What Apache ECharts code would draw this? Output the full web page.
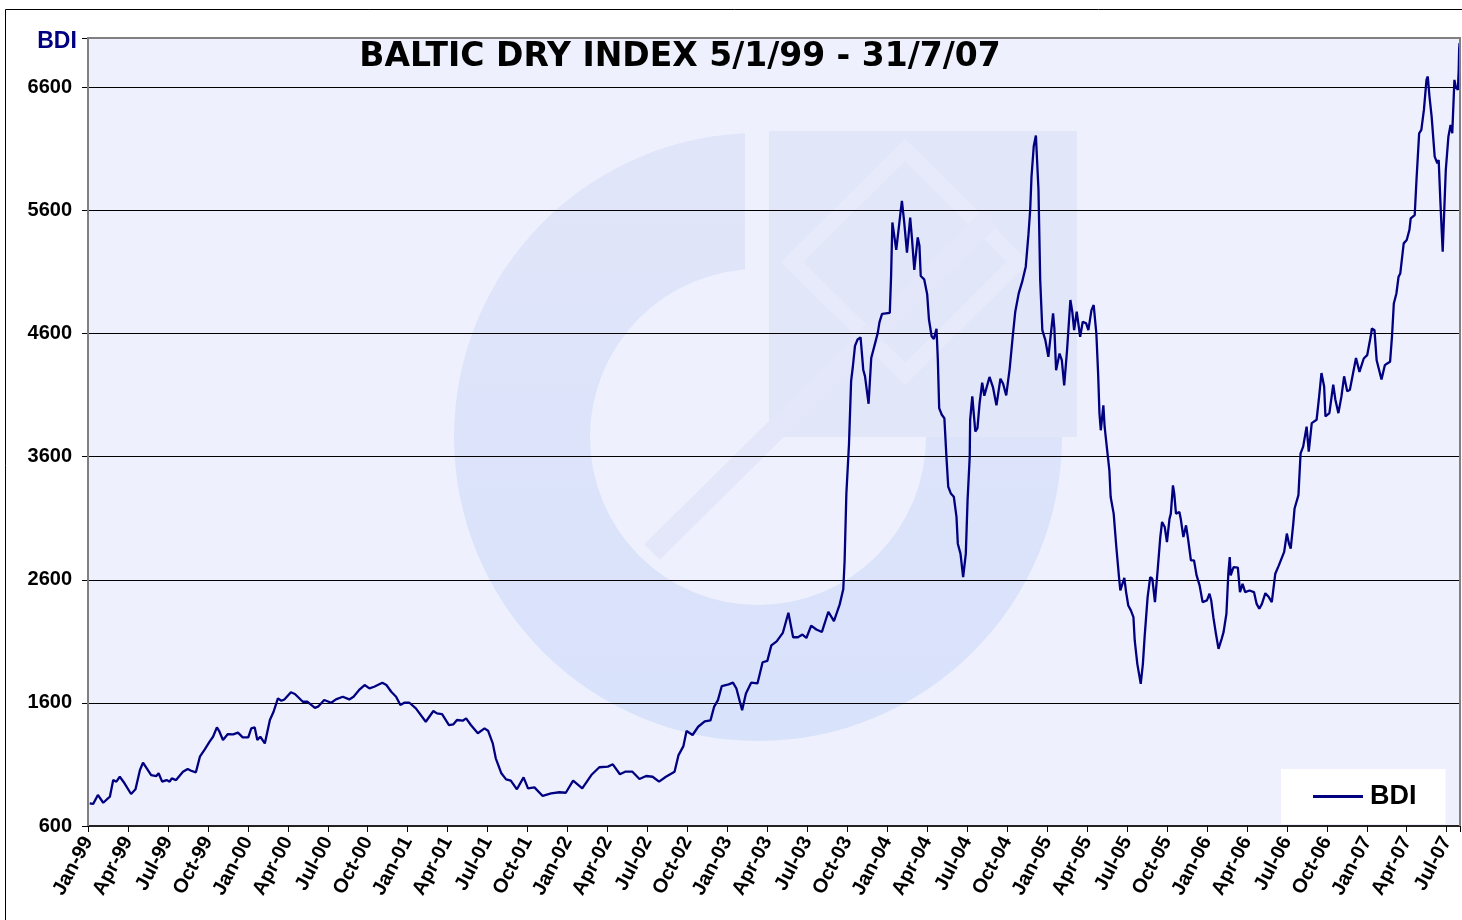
<!DOCTYPE html>
<html>
<head>
<meta charset="utf-8">
<title>Baltic Dry Index</title>
<script src="https://cdn.jsdelivr.net/npm/echarts@6/dist/echarts.min.js"></script>
<style>
  html, body { margin: 0; padding: 0; background: #fff; }
  #chart { width: 1462px; height: 920px; }
</style>
</head>
<body>
<div id="chart"></div>
<script>
// quarterly tick labels along the bottom
const quarterLabels = ['Jan-99','Apr-99','Jul-99','Oct-99','Jan-00','Apr-00','Jul-00','Oct-00',
  'Jan-01','Apr-01','Jul-01','Oct-01','Jan-02','Apr-02','Jul-02','Oct-02','Jan-03','Apr-03',
  'Jul-03','Oct-03','Jan-04','Apr-04','Jul-04','Oct-04','Jan-05','Apr-05','Jul-05','Oct-05',
  'Jan-06','Apr-06','Jul-06','Oct-06','Jan-07','Apr-07','Jul-07']

// BDI readings
const dates = [
  '1999-01-05','1999-01-13','1999-01-24','1999-02-05','1999-02-19','1999-02-26','1999-03-05','1999-03-13',
  '1999-03-24','1999-04-08','1999-04-18','1999-04-28','1999-05-05','1999-05-24','1999-06-05','1999-06-10',
  '1999-06-18','1999-06-28','1999-07-05','1999-07-10','1999-07-20','1999-08-05','1999-08-16','1999-08-24',
  '1999-09-04','1999-09-13','1999-09-24','1999-10-05','1999-10-13','1999-10-22','1999-10-28','1999-11-05',
  '1999-11-16','1999-11-28','1999-12-09','1999-12-20',
  '2000-01-02','2000-01-09','2000-01-17','2000-01-23','2000-01-30','2000-02-09','2000-02-20','2000-02-28',
  '2000-03-09','2000-03-17','2000-03-24','2000-04-08','2000-04-17','2000-05-05','2000-05-16','2000-06-02',
  '2000-06-09','2000-06-23','2000-07-09','2000-07-20','2000-08-05','2000-08-20','2000-08-30','2000-09-13',
  '2000-09-24','2000-10-05','2000-10-16','2000-11-04','2000-11-13','2000-11-24','2000-12-05','2000-12-15',
  '2000-12-24',
  '2001-01-05','2001-01-20','2001-02-11','2001-02-27','2001-03-07','2001-03-19','2001-04-04','2001-04-14',
  '2001-04-22','2001-05-05','2001-05-13','2001-05-24','2001-06-09','2001-06-24','2001-07-02','2001-07-13',
  '2001-07-20','2001-08-02','2001-08-13','2001-08-24','2001-09-07','2001-09-22','2001-10-02','2001-10-17',
  '2001-11-05','2001-11-24','2001-12-13','2001-12-28',
  '2002-01-14','2002-02-04','2002-02-23','2002-03-13','2002-04-02','2002-04-13','2002-04-29','2002-05-11',
  '2002-05-28','2002-06-13','2002-06-28','2002-07-13','2002-07-28','2002-08-13','2002-09-02','2002-09-11',
  '2002-09-22','2002-09-29','2002-10-13','2002-10-26','2002-11-10','2002-11-23','2002-12-01','2002-12-10',
  '2002-12-19',
  '2003-01-04','2003-01-14','2003-01-22','2003-02-04','2003-02-12','2003-02-23','2003-03-09','2003-03-21',
  '2003-04-01','2003-04-10','2003-04-22','2003-05-06','2003-05-19','2003-05-30','2003-06-10','2003-06-20',
  '2003-06-29','2003-07-10','2003-07-22','2003-08-04','2003-08-19','2003-09-01','2003-09-14','2003-09-22',
  '2003-09-25','2003-09-29','2003-10-05','2003-10-10','2003-10-14','2003-10-19','2003-10-25','2003-11-01',
  '2003-11-07','2003-11-11','2003-11-19','2003-11-25','2003-12-04','2003-12-10','2003-12-14','2003-12-20',
  '2004-01-07','2004-01-10','2004-01-13','2004-01-16','2004-01-22','2004-01-26','2004-02-01','2004-02-04',
  '2004-02-09','2004-02-15','2004-02-18','2004-02-22','2004-02-26','2004-03-02','2004-03-10','2004-03-14',
  '2004-03-17','2004-03-25','2004-04-01','2004-04-05','2004-04-11','2004-04-16','2004-04-22','2004-04-25',
  '2004-04-28','2004-05-04','2004-05-10','2004-05-15','2004-05-19','2004-05-25','2004-06-01','2004-06-07',
  '2004-06-10','2004-06-16','2004-06-22','2004-06-28','2004-07-02','2004-07-07','2004-07-08','2004-07-13',
  '2004-07-20','2004-07-25','2004-07-30','2004-08-05','2004-08-10','2004-08-22','2004-08-30','2004-09-07',
  '2004-09-16','2004-09-22','2004-09-29','2004-10-07','2004-10-14','2004-10-20','2004-10-28','2004-11-05',
  '2004-11-13','2004-11-19','2004-11-23','2004-11-26','2004-12-01','2004-12-06','2004-12-12','2004-12-16',
  '2004-12-21','2004-12-28',
  '2005-01-04','2005-01-08','2005-01-15','2005-01-18','2005-01-22','2005-01-25','2005-01-30','2005-02-04',
  '2005-02-09','2005-02-15','2005-02-22','2005-02-26','2005-03-02','2005-03-08','2005-03-16','2005-03-22',
  '2005-03-30','2005-04-04','2005-04-11','2005-04-16','2005-04-22','2005-04-26','2005-04-29','2005-05-02',
  '2005-05-08','2005-05-11','2005-05-16','2005-05-22','2005-05-25','2005-06-01','2005-06-07','2005-06-13',
  '2005-06-16','2005-06-25','2005-06-29','2005-07-04','2005-07-10','2005-07-16','2005-07-19','2005-07-25',
  '2005-08-02','2005-08-07','2005-08-11','2005-08-18','2005-08-24','2005-08-29','2005-09-04','2005-09-10',
  '2005-09-16','2005-09-20','2005-09-26','2005-10-01','2005-10-07','2005-10-10','2005-10-15','2005-10-18',
  '2005-10-22','2005-10-30','2005-11-02','2005-11-08','2005-11-14','2005-11-19','2005-11-25','2005-12-02',
  '2005-12-08','2005-12-15','2005-12-22',
  '2006-01-01','2006-01-07','2006-01-11','2006-01-16','2006-01-22','2006-01-28','2006-02-04','2006-02-08',
  '2006-02-14','2006-02-18','2006-02-21','2006-02-23','2006-03-01','2006-03-05','2006-03-11','2006-03-16',
  '2006-03-22','2006-03-28','2006-04-07','2006-04-17','2006-04-23','2006-04-29','2006-05-05','2006-05-13',
  '2006-05-21','2006-05-28','2006-06-05','2006-06-13','2006-06-17','2006-06-25','2006-07-01','2006-07-06',
  '2006-07-10','2006-07-16','2006-07-19','2006-07-28','2006-08-02','2006-08-08','2006-08-16','2006-08-21',
  '2006-08-28','2006-09-08','2006-09-13','2006-09-19','2006-09-25','2006-09-28','2006-10-07','2006-10-16',
  '2006-10-21','2006-10-28','2006-11-04','2006-11-10','2006-11-17','2006-11-23','2006-12-01','2006-12-07',
  '2006-12-15','2006-12-25',
  '2007-01-02','2007-01-10','2007-01-13','2007-01-19','2007-01-24','2007-01-28','2007-02-04','2007-02-11',
  '2007-02-16','2007-02-22','2007-02-26','2007-03-02','2007-03-08','2007-03-13','2007-03-17','2007-03-25',
  '2007-04-01','2007-04-07','2007-04-10','2007-04-19','2007-04-23','2007-04-29','2007-05-04','2007-05-10',
  '2007-05-16','2007-05-19','2007-05-23','2007-05-28','2007-06-04','2007-06-10','2007-06-13','2007-06-17',
  '2007-06-22','2007-06-25','2007-06-29','2007-07-05','2007-07-10','2007-07-14','2007-07-19','2007-07-22',
  '2007-07-27','2007-07-29','2007-07-30','2007-07-31'
]

const bdi = [
  784, 779, 852, 789, 838, 973, 960, 1000,
  947, 860, 898, 1055, 1114, 1014, 1006, 1028,
  960, 973, 960, 987, 973, 1040, 1063, 1049,
  1036, 1163, 1223, 1285, 1325, 1401, 1366, 1298,
  1347, 1344, 1358, 1320,
  1320, 1393, 1401, 1298, 1325, 1271, 1461, 1528,
  1637, 1617, 1628, 1686, 1672, 1609, 1609, 1560,
  1569, 1623, 1601, 1628, 1650, 1628, 1650, 1710,
  1745, 1718, 1731, 1763, 1745, 1690, 1650, 1582,
  1601,
  1601, 1555, 1447, 1534, 1515, 1509, 1420, 1426,
  1461, 1455, 1474, 1420, 1353, 1393, 1374, 1271,
  1150, 1028, 979, 968, 898, 995, 906, 914,
  844, 865, 874, 870,
  968, 906, 1014, 1077, 1082, 1101, 1020, 1041,
  1041, 982, 1006, 1000, 960, 1000, 1041, 1176,
  1249, 1371, 1339, 1406, 1450, 1458, 1567, 1622,
  1737,
  1750, 1764, 1717, 1540, 1676, 1764, 1758, 1930,
  1941, 2067, 2100, 2168, 2332, 2133, 2133, 2155,
  2127, 2228, 2196, 2176, 2340, 2264, 2400, 2523,
  2750, 3300, 3700, 4215, 4330, 4500, 4551, 4568,
  4306, 4252, 4029, 4401, 4524, 4605, 4692, 4760,
  4768, 5067, 5502, 5488, 5279, 5276, 5583, 5678,
  5502, 5257, 5257, 5542, 5366, 5116, 5380, 5312,
  5067, 5040, 4918, 4714, 4578, 4556, 4638, 4388,
  3994, 3940, 3912, 3586, 3355, 3301, 3274, 3111,
  2893, 2812, 2622, 2812, 3247, 3600, 3899, 4089,
  3804, 3831, 4035, 4200, 4094, 4247, 4165, 4016,
  4233, 4192, 4097, 4315, 4573, 4777, 4926, 5021,
  5143, 5401, 5605, 5877, 6121, 6208, 5768, 5035,
  4627, 4546,
  4410, 4396, 4763, 4641, 4301, 4288, 4437, 4383,
  4179, 4464, 4872, 4777, 4627, 4777, 4573, 4695,
  4682, 4627, 4790, 4831, 4600, 4274, 3950, 3814,
  4017, 3841, 3679, 3489, 3272, 3137, 2866, 2622,
  2513, 2616, 2500, 2391, 2351, 2296, 2107, 1917,
  1754, 1917, 2134, 2459, 2622, 2608, 2418, 2676,
  2947, 3069, 3028, 2906, 3096, 3137, 3367, 3299,
  3137, 3150, 3096, 2947, 3042, 2920, 2757, 2757,
  2635, 2554, 2418,
  2432, 2486, 2432, 2296, 2161, 2039, 2120, 2175,
  2324, 2649, 2784, 2635, 2703, 2690, 2698, 2500,
  2567, 2500, 2513, 2500, 2404, 2364, 2404, 2491,
  2459, 2418, 2649, 2717, 2725, 2826, 2975, 2893,
  2853, 3056, 3179, 3287, 3627, 3681, 3844, 3641,
  3872, 3899, 4062, 4279, 4170, 3926, 3953, 4184,
  4062, 3953, 4089, 4252, 4130, 4143, 4293, 4401,
  4288, 4397,
  4424, 4573, 4641, 4627, 4383, 4370, 4226, 4343,
  4356, 4370, 4573, 4844, 4925, 5061, 5088, 5332,
  5359, 5440, 5535, 5562, 5847, 6226, 6253, 6416,
  6660, 6687, 6524, 6362, 6036, 5982, 6009, 5657,
  5264, 5549, 5928, 6199, 6294, 6226, 6660, 6605,
  6578, 6741, 6904, 6958
]

// months elapsed since Jan 1999, fractional within the month
function monthPos(s) {
  const [y, m, d] = s.split('-').map(Number)
  const dim = new Date(y, m, 0).getDate()
  return (y - 1999) * 12 + (m - 1) + (d - 1) / dim
}

const seriesData = dates.map((d, i) => [monthPos(d), bdi[i]])

const chart = echarts.init(document.getElementById('chart'))

const labelFont = '"Liberation Sans", Arial, sans-serif'

chart.setOption({
  animation: false,
  backgroundColor: '#fff',
  grid: { left: 88, right: 2, top: 38, bottom: 94 },
  graphic: [
    // outer chart frame
    { type: 'rect', z: -20, shape: { x: 5.5, y: 9.5, width: 1470, height: 940 },
      style: { fill: '#fff', stroke: '#000', lineWidth: 1 } },
    // plot area fill
    { type: 'rect', z: -10, shape: { x: 88, y: 38, width: 1372, height: 788 },
      style: { fill: '#eef1fd' } },
    // faint watermark logo
    { type: 'sector', z: -9, shape: { cx: 758, cy: 437, r: 304, r0: 168, startAngle: 0, endAngle: Math.PI * 1.5, clockwise: true },
      style: { fill: new echarts.graphic.LinearGradient(0, 0, 0, 1, [
        { offset: 0, color: '#e1e5f9' }, { offset: 1, color: '#d8e2fb' }]) } },
    { type: 'rect', z: -8, shape: { x: 745, y: 128, width: 24, height: 145 }, style: { fill: '#eef1fd' } },
    { type: 'rect', z: -8, shape: { x: 769, y: 131, width: 308, height: 306 }, style: { fill: '#e2e6f9' } },
    { type: 'polygon', z: -7, shape: { points: [[792, 262], [905, 150], [1018, 262], [905, 374]] },
      style: { fill: 'none', stroke: '#e7eafa', lineWidth: 16 } },
    { type: 'line', z: -7, shape: { x1: 652, y1: 552, x2: 990, y2: 218 },
      style: { stroke: '#e4e7f9', lineWidth: 22 } },
    // plot border (left, top, right)
    { type: 'polyline', z: 5, shape: { points: [[88, 826], [88, 38], [1460, 38], [1460, 826]] },
      style: { fill: 'none', stroke: '#808080', lineWidth: 2 } },
    // title
    { type: 'text', z: 6, x: 680, y: 57,
      style: { text: 'BALTIC DRY INDEX 5/1/99 - 31/7/07', fill: '#000', align: 'center', verticalAlign: 'middle',
        font: 'bold 33px "DejaVu Sans", Verdana, sans-serif' } },
    // y axis caption
    { type: 'text', z: 6, x: 57, y: 42,
      style: { text: 'BDI', fill: '#000080', align: 'center', verticalAlign: 'middle',
        font: 'bold 23px "Liberation Sans", Arial, sans-serif' } }
  ],
  legend: {
    data: ['BDI'],
    left: 1281,
    top: 769,
    padding: [14, 29, 14, 32],
    backgroundColor: '#fff',
    icon: 'rect',
    itemWidth: 50,
    itemHeight: 3,
    itemGap: 0,
    textStyle: { fontFamily: labelFont, fontWeight: 'bold', fontSize: 27, color: '#000', padding: [2, 0, 0, 2] }
  },
  xAxis: {
    type: 'value',
    min: 0,
    max: 103,
    interval: 3,
    axisLine: { lineStyle: { color: '#222', width: 2 } },
    axisTick: { length: 6, lineStyle: { color: '#000' } },
    splitLine: { show: false },
    axisLabel: {
      rotate: 62,
      margin: 12,
      fontFamily: labelFont,
      fontWeight: 'bold',
      fontSize: 20,
      color: '#000',
      formatter: v => (v % 3 === 0 && quarterLabels[v / 3]) || ''
    }
  },
  yAxis: {
    type: 'value',
    min: 600,
    max: 7000,
    interval: 1000,
    axisLine: { show: true, lineStyle: { color: '#808080', width: 2 } },
    axisTick: { show: true, length: 6, lineStyle: { color: '#000' } },
    splitLine: { lineStyle: { color: '#000', width: 1 } },
    axisLabel: {
      margin: 16,
      fontFamily: labelFont,
      fontWeight: 'bold',
      fontSize: 20,
      color: '#000',
      formatter: v => (v > 6600 ? '' : String(v))
    }
  },
  series: [
    {
      name: 'BDI',
      type: 'line',
      data: seriesData,
      showSymbol: false,
      symbol: 'none',
      color: '#000080',
      lineStyle: { color: '#000080', width: 2.3 }
    }
  ]
})
</script>
</body>
</html>
